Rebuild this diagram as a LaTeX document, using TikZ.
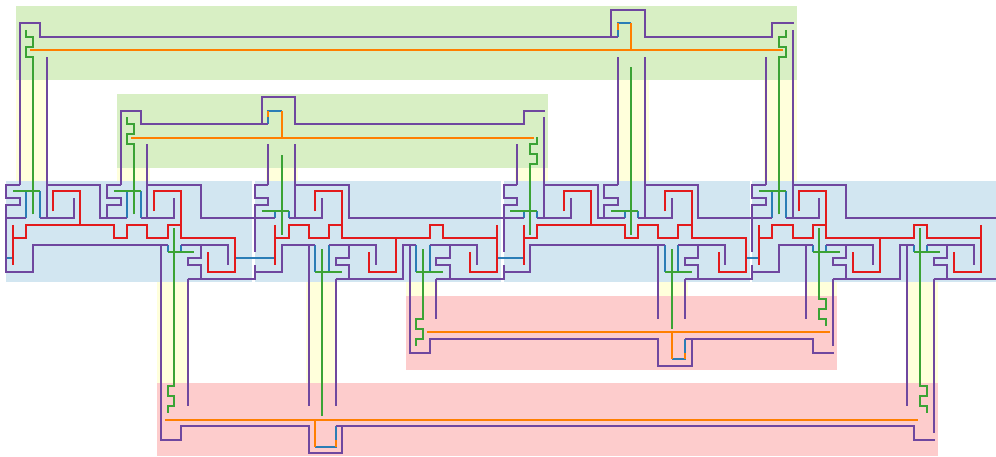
\documentclass[tikz,border=0pt]{standalone}
\definecolor{cpurple}{HTML}{6F479F}
\definecolor{cred}{HTML}{E31A1C}
\definecolor{cblue}{HTML}{2A7DB6}
\definecolor{cgreen}{HTML}{3BA335}
\definecolor{corange}{HTML}{FF7F00}
\definecolor{bgblue}{HTML}{D2E6F1}
\definecolor{bggreen}{HTML}{D8EFC4}
\definecolor{bgpink}{HTML}{FDCCCC}
\definecolor{bgyellow}{HTML}{FFFFDB}
\tikzset{
  wire/.style={line width=2pt,line join=miter},
  pu/.style={wire,draw=cpurple},
  re/.style={wire,draw=cred},
  bl/.style={wire,draw=cblue},
  gr/.style={wire,draw=cgreen},
  ora/.style={wire,draw=corange},
}
% repeated pieces of a module, in module-local grid units
\def\hook{(2,0)--(0,0)--(0,2)--(2,2)--(2,3)--(0,3)}
\def\base{(0,12)--(0,13)--(4,13)--(4,9)}
\def\comb{(15,5)--(15,3)--(17,3)--(17,2)--(15,2)--(15,0)--(17,0)}
\def\tailA{(26,9)--(33,9)--(33,12) (29,9)--(29,11)--(27,11)--(27,12)--(29,12)--(29,14)}
\def\tailB{(11,9)--(18,9)--(18,12) (14,9)--(14,11)--(12,11)--(12,12)--(14,12)--(14,14) (12,14)--(22,14)--(22,9)--(24,9)}
\def\uprA{(5,5)--(10,5)--(10,2) (6,0)--(6,5)}
\begin{document}
\begin{tikzpicture}
\useasboundingbox (0,0) rectangle (996pt,-456pt);
\clip (0,0) rectangle (996pt,-456pt);
% backgrounds, in pixels
\begin{scope}[x=1pt,y=-1pt]
  \fill[bgyellow] (16,80) rectangle (48,181);
  \fill[bgyellow] (117,168) rectangle (149.5,181);
  \fill[bgyellow] (266,168) rectangle (298,181);
  \fill[bgyellow] (515,168) rectangle (547.5,181);
  \fill[bgyellow] (616.5,80) rectangle (648.5,181);
  \fill[bgyellow] (763.5,80) rectangle (796.7,181);
  \fill[bgyellow] (157,281.7) rectangle (188.5,383);
  \fill[bgyellow] (305.7,281.7) rectangle (337.3,383);
  \fill[bgyellow] (406,281.7) rectangle (437.5,296);
  \fill[bgyellow] (656.7,281.7) rectangle (688.3,296);
  \fill[bgyellow] (804.5,281.7) rectangle (836.7,296);
  \fill[bgyellow] (906,281.7) rectangle (938,383);
  \fill[bggreen] (16,6) rectangle (797,80);
  \fill[bggreen] (117,94) rectangle (548,168);
  \fill[bgpink] (406,296) rectangle (837,370);
  \fill[bgpink] (157,383) rectangle (938,456);
  \fill[bgblue] (6,181) rectangle (252,281.7);
  \fill[bgblue] (255,181) rectangle (501,281.7);
  \fill[bgblue] (503.5,181) rectangle (750,281.7);
  \fill[bgblue] (752,181) rectangle (996,281.7);
\end{scope}
% grid: one unit = 6.72 px, origin at (6.3,184.5)
\begin{scope}[shift={(6.3pt,-184.5pt)},x=6.72pt,y=-6.72pt]
  % ---- blue wires
  \draw[bl] (0,11)--(1,11) (3,1)--(3,5) (5,1)--(5,5) (18,1)--(18,5) (20,1)--(20,5)
    (24,9)--(24,10) (26,9)--(26,10) (34,11)--(40,11);
  \begin{scope}[shift={(37,0)}]
    \draw[bl] (3,4)--(3,5) (5,4)--(5,5) (9,9)--(9,13) (11,9)--(11,13)
      (24,9)--(24,13) (26,9)--(26,13) (36,11)--(40,11);
  \end{scope}
  \begin{scope}[shift={(74,0)}]
    \draw[bl] (3,4)--(3,5) (5,4)--(5,5) (18,4)--(18,5) (20,4)--(20,5)
      (24,9)--(24,13) (26,9)--(26,13) (36,11)--(38,11);
  \end{scope}
  \begin{scope}[shift={(111,0)}]
    \draw[bl] (3,1)--(3,5) (5,1)--(5,5) (9,9)--(9,10) (11,9)--(11,10)
      (24,9)--(24,10) (26,9)--(26,10);
  \end{scope}
  \draw[bl] (91,-22)--(91,-24)--(93,-24);
  \draw[bl] (39,-9)--(39,-11)--(41,-11);
  \draw[bl] (101,23)--(101,26)--(99,26);
  \draw[bl] (49,36)--(49,39)--(46,39);
  % ---- purple wires: modules
  \draw[pu] \hook--(0,13)--(4,13)--(4,9)--(24,9) (3,5)--(0,5) \uprA
    (6,0)--(14,0)--(14,5)--(18,5) \comb (20,5)--(25,5)--(25,2) (21,0)--(21,5)
    (21,0)--(29,0)--(29,5)--(37,5) \tailA (27,14)--(37,14)--(37,12);
  \begin{scope}[shift={(37,0)}]
    \draw[pu] \hook--(0,10) \base--(9,9) (0,5)--(3,5) \uprA
      (6,0)--(14,0)--(14,5)--(37,5) \tailB \tailA (27,14)--(37,14)--(37,12);
  \end{scope}
  \begin{scope}[shift={(74,0)}]
    \draw[pu] \hook--(0,10) \base--(24,9) (0,5)--(3,5) \uprA
      (6,0)--(14,0)--(14,5)--(18,5) \comb (20,5)--(25,5)--(25,2) (21,0)--(21,5)
      (21,0)--(29,0)--(29,5)--(37,5) \tailA (27,14)--(37,14)--(37,12);
  \end{scope}
  \begin{scope}[shift={(111,0)}]
    \draw[pu] \hook--(0,10) \base--(9,9) (0,5)--(3,5) \uprA
      (6,0)--(14,0)--(14,5)--(37,5) \tailB \tailA (27,14)--(37,14);
  \end{scope}
  % ---- purple wires: upper panels
  \draw[pu] (2,0)--(2,-24)--(5,-24)--(5,-22)--(90,-22)--(90,-26)--(95,-26)--(95,-22)--(114,-22)--(114,-24)--(117.2,-24)
    (90,-22)--(91,-22) (6,0)--(6,-19) (91,0)--(91,-19) (95,0)--(95,-19) (113,0)--(113,-19) (117,0)--(117,-23);
  \draw[pu] (17,0)--(17,-11)--(20,-11)--(20,-9)--(38,-9)--(38,-13)--(43,-13)--(43,-9)--(77,-9)--(77,-11)--(80.2,-11)
    (38,-9)--(39,-9) (21,0)--(21,-6) (39,0)--(39,-6) (43,0)--(43,-6) (76,0)--(76,-6) (80,0)--(80,-10);
  % ---- purple wires: lower panels
  \draw[pu] (60,9)--(60,25)--(63,25)--(63,23)--(97,23)--(97,27)--(102,27)--(102,23)--(120,23)--(120,25)--(123.2,25)
    (101,23)--(102,23) (64,14)--(64,20) (97,9)--(97,20) (101,14)--(101,20) (119,9)--(119,20) (123,14)--(123,24);
  \draw[pu] (23,9)--(23,38)--(26,38)--(26,36)--(45,36)--(45,40)--(50,40)--(50,36)--(135,36)--(135,38)--(138.2,38)
    (49,36)--(50,36) (27,14)--(27,33) (45,9)--(45,33) (49,14)--(49,33) (134,9)--(134,33) (138,14)--(138,37);
  % ---- red wires
  \draw[re] (1,6)--(1,12) (1,8)--(3,8)--(3,6)--(16,6)--(16,8)--(18,8)--(18,6)--(21,6)--(21,8)--(24,8)--(24,6)--(26,6)
    (7,4)--(7,1)--(11,1)--(11,6) (22,4)--(22,1)--(26,1)--(26,8)--(34,8)--(34,13)--(30,13)--(30,10);
  \begin{scope}[shift={(37,0)}]
    \draw[re] (3,6)--(3,12) (3,8)--(5,8)--(5,6)--(8,6)--(8,8)--(11,8)--(11,6)--(13,6)
      (9,4)--(9,1)--(13,1)--(13,8)--(26,8)--(26,6)--(28,6)--(28,8)--(36,8)
      (36,6)--(36,13)--(32,13)--(32,10) (21,8)--(21,13)--(17,13)--(17,10);
  \end{scope}
  \begin{scope}[shift={(74,0)}]
    \draw[re] (3,6)--(3,12) (3,8)--(5,8)--(5,6)--(18,6)--(18,8)--(20,8)--(20,6)--(23,6)--(23,8)--(26,8)--(26,6)--(28,6)
      (9,4)--(9,1)--(13,1)--(13,6) (24,4)--(24,1)--(28,1)--(28,8)--(36,8)--(36,13)--(32,13)--(32,10);
  \end{scope}
  \begin{scope}[shift={(111,0)}]
    \draw[re] (1,6)--(1,12) (1,8)--(3,8)--(3,6)--(6,6)--(6,8)--(9,8)--(9,6)--(11,6)
      (7,4)--(7,1)--(11,1)--(11,8)--(24,8)--(24,6)--(26,6)--(26,8)--(34,8)
      (34,6)--(34,13)--(30,13)--(30,10) (19,8)--(19,13)--(15,13)--(15,10);
  \end{scope}
  % ---- green wires
  \draw[gr] (1,1)--(5,1) (16,1)--(20,1) (24,10)--(28,10);
  \begin{scope}[shift={(37,0)}]
    \draw[gr] (1,4)--(5,4) (9,13)--(13,13) (24,13)--(28,13);
  \end{scope}
  \begin{scope}[shift={(74,0)}]
    \draw[gr] (1,4)--(5,4) (16,4)--(20,4) (24,13)--(28,13);
  \end{scope}
  \begin{scope}[shift={(111,0)}]
    \draw[gr] (1,1)--(5,1) (9,10)--(13,10) (24,10)--(28,10);
  \end{scope}
  \draw[gr] (4,4.46)--(4,-19)--(3,-19)--(3,-20.5)--(4,-20.5)--(4,-22)--(3,-22)--(3,-23);
  \draw[gr] (19,4.46)--(19,-6)--(18,-6)--(18,-7.5)--(19,-7.5)--(19,-9)--(18,-9)--(18,-10);
  \draw[gr] (41,7.44)--(41,-4.46);
  \draw[gr] (78,7.44)--(78,-3)--(79,-3)--(79,-4.5)--(78,-4.5)--(78,-6)--(79,-6)--(79,-7);
  \draw[gr] (93,7.44)--(93,-17.5);
  \draw[gr] (115,4.46)--(115,-19)--(116,-19)--(116,-20.5)--(115,-20.5)--(115,-22)--(116,-22)--(116,-23);
  \draw[gr] (25,6.5)--(25,30)--(24,30)--(24,31.5)--(25,31.5)--(25,33)--(24,33)--(24,34);
  \draw[gr] (47,9.6)--(47,34.5);
  \draw[gr] (62,9.6)--(62,20)--(61,20)--(61,21.5)--(62,21.5)--(62,23)--(61,23)--(61,24);
  \draw[gr] (99,9.6)--(99,21.5);
  \draw[gr] (121,6.5)--(121,17)--(122,17)--(122,18.5)--(121,18.5)--(121,20)--(122,20)--(122,21);
  \draw[gr] (136,6.5)--(136,30)--(137,30)--(137,31.5)--(136,31.5)--(136,33)--(137,33)--(137,34);
  % ---- orange wires
  \draw[ora] (3.57,-20)--(115.6,-20) (93,-20)--(93,-24) (91,-24)--(91,-23);
  \draw[ora] (18.6,-6.96)--(78.6,-6.96) (41,-7)--(41,-11) (39,-11)--(39,-10);
  \draw[ora] (62.6,22)--(122.6,22) (99,22)--(99,26) (101,26)--(101,25);
  \draw[ora] (23.6,35)--(135.6,35) (46,35)--(46,39) (49,39)--(49,38);
\end{scope}
\end{tikzpicture}
\end{document}
